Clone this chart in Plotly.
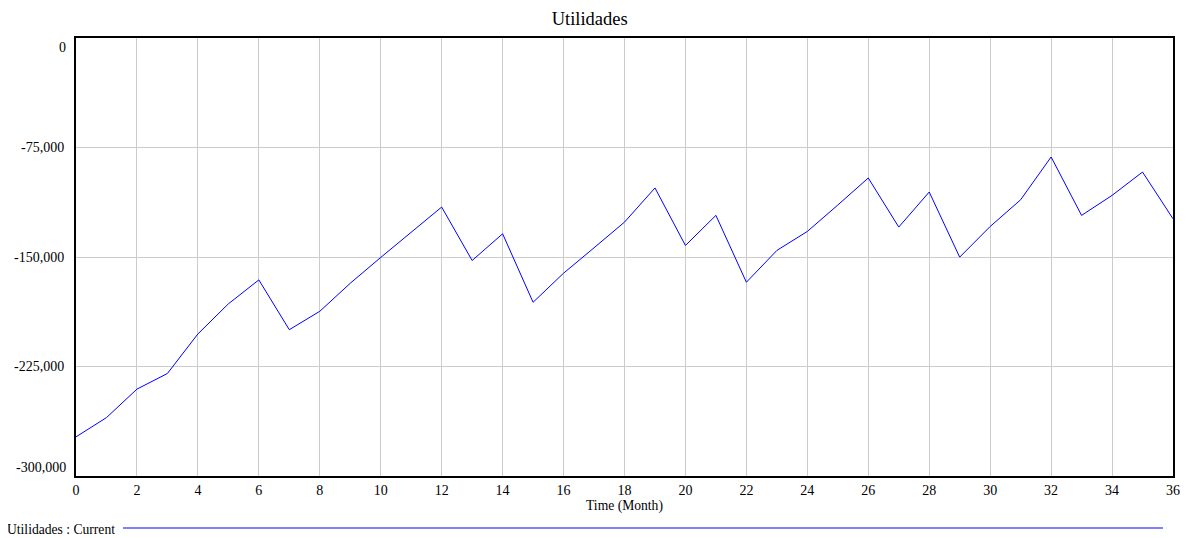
import plotly.graph_objects as go

months = list(range(0, 37))
utilidades = [
    -273200, -260000, -240500, -229800, -202700, -182100, -165700,
    -199800, -187200, -168000, -150300, -133000, -115800, -152400,
    -134100, -181000, -161100, -143700, -126100, -102700, -142100,
    -121500, -167300, -145500, -132500, -114400, -95900, -129500,
    -105500, -150100, -129100, -110800, -81500, -121500, -107800,
    -91800, -123800,
]
x_ticks = list(range(0, 37, 2))
y_ticks_mid = [-75000, -150000, -225000]
y_tick_text_mid = ["-75,000", "-150,000", "-225,000"]

FONT = "Liberation Serif"
TICK_SIZE = 14
TEXT_SIZE = 13.6

fig = go.Figure()
fig.add_trace(go.Scatter(
    x=months, y=utilidades, mode="lines",
    line=dict(color="#0000ff", width=1),
    showlegend=False, hoverinfo="x+y",
))

# page body has an 8px margin, so the figure is slightly smaller and margins compensate
fig.update_layout(
    width=1180, height=530,
    margin=dict(l=68, r=15, t=30, b=62, autoexpand=False),
    paper_bgcolor="white", plot_bgcolor="white",
    font=dict(family=FONT, size=TEXT_SIZE, color="#000000"),
    title=dict(text="Utilidades", x=0.493, xanchor="center", y=0.981, yanchor="middle",
               font=dict(family=FONT, size=18.5, color="#000000")),
    showlegend=False,
)

fig.update_xaxes(
    range=[0, 36], tickvals=x_ticks, ticktext=[str(v) for v in x_ticks],
    showgrid=True, gridcolor="#cccccc", gridwidth=1,
    showline=True, linecolor="black", linewidth=2, mirror=True,
    ticks="", ticklabelstandoff=0, automargin=False,
    tickfont=dict(family=FONT, size=TICK_SIZE, color="#000000"),
    title=dict(text="Time (Month)", standoff=2, font=dict(family=FONT, size=TEXT_SIZE, color="#000000")),
    zeroline=False,
)
fig.update_yaxes(
    range=[-300000, 0], tickvals=y_ticks_mid, ticktext=y_tick_text_mid,
    showgrid=True, gridcolor="#cccccc", gridwidth=1,
    showline=True, linecolor="black", linewidth=2, mirror=True,
    ticks="", ticklabelstandoff=7, automargin=False,
    tickfont=dict(family=FONT, size=TICK_SIZE, color="#000000"),
    zeroline=False,
)

# end labels of the y axis, drawn inside like the original
for val, txt, shift in [(0, "0", -9), (-300000, "-300,000", 9)]:
    fig.add_annotation(x=-0.007, xref="paper", y=val, yref="y", text=txt,
                       showarrow=False, xanchor="right", yanchor="middle", yshift=shift,
                       font=dict(family=FONT, size=TICK_SIZE, color="#000000"))

# legend: text followed by line
fig.add_annotation(x=(5 - 76) / 1097, xref="paper", y=(476 - 529) / 438, yref="paper",
                   text="Utilidades : Current", showarrow=False, xanchor="left", yanchor="middle",
                   font=dict(family=FONT, size=TEXT_SIZE, color="#000000"))
fig.add_shape(type="line", xref="paper", yref="paper",
              x0=(123 - 76) / 1097, x1=(1163 - 76) / 1097,
              y0=(476 - 528) / 438, y1=(476 - 528) / 438,
              line=dict(color="#0000ff", width=1))

fig.write_html("out.html")
